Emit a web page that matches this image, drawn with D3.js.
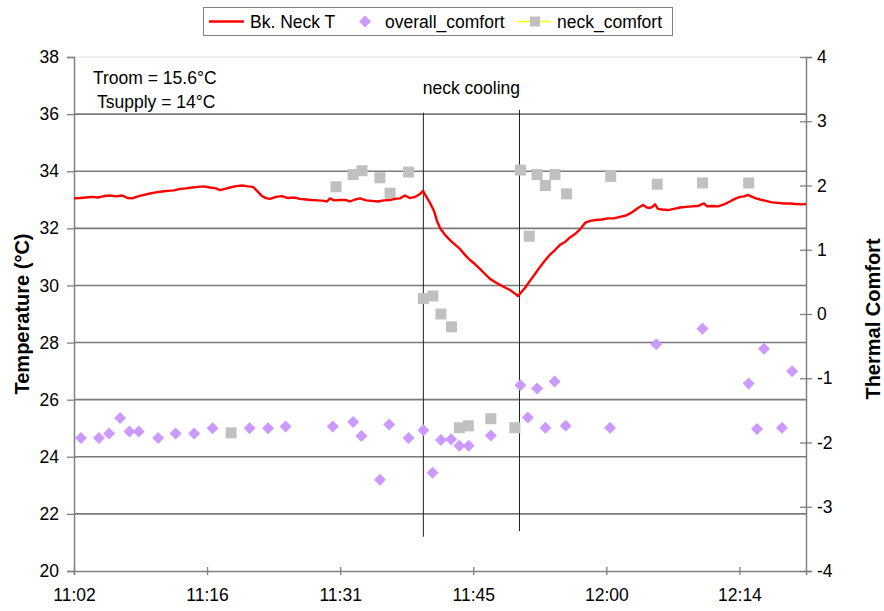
<!DOCTYPE html>
<html>
<head>
<meta charset="utf-8">
<script src="https://cdn.jsdelivr.net/npm/d3@7"></script>
<style>
  body { margin: 0; background: #fff; }
  svg { font-family: "Liberation Sans", Arial, sans-serif; }
</style>
</head>
<body>
<div id="chart"></div>
<script>
// times are minutes after 11:00
const timeTicks = [2.4, 16.8, 31.2, 45.6, 60, 74.4];
const timeLabels = ["11:02", "11:16", "11:31", "11:45", "12:00", "12:14"];
const tempTicks = [20, 22, 24, 26, 28, 30, 32, 34, 36, 38];
const comfortTicks = [-4, -3, -2, -1, 0, 1, 2, 3, 4];

// Bk. Neck T  [minute, °C]
const neckT = [
  [2.40,33.05],[3.05,33.06],[3.70,33.08],[4.35,33.10],[5.00,33.08],[5.65,33.13],[6.29,33.15],[6.94,33.12],
  [7.59,33.15],[8.24,33.06],[8.68,33.05],[9.32,33.12],[9.97,33.17],[10.62,33.22],[11.27,33.26],[11.92,33.29],
  [12.57,33.31],[13.22,33.33],[13.87,33.38],[14.52,33.40],[15.17,33.43],[15.82,33.45],[16.46,33.47],[17.11,33.43],
  [17.76,33.40],[18.20,33.34],[18.74,33.38],[19.28,33.43],[19.93,33.48],[20.58,33.50],[21.23,33.47],[21.77,33.45],
  [22.20,33.31],[22.74,33.13],[23.17,33.06],[23.61,33.03],[24.25,33.10],[24.90,33.13],[25.55,33.06],[26.20,33.08],
  [26.85,33.03],[27.50,33.01],[28.15,32.99],[28.80,32.98],[29.45,32.96],[29.77,32.94],[30.10,33.05],[30.53,32.98],
  [31.18,32.99],[31.83,32.99],[32.26,32.94],[32.80,33.01],[33.34,33.05],[33.99,32.98],[34.64,32.96],[35.29,32.94],
  [35.94,32.98],[36.59,32.99],[37.13,33.03],[37.67,33.05],[38.21,33.15],[38.75,33.06],[39.29,33.10],[39.83,33.20],
  [40.16,33.31],[40.48,33.13],[40.92,32.89],[41.35,32.61],[41.67,32.26],[42.00,32.01],[42.54,31.77],[43.08,31.59],
  [43.62,31.43],[44.16,31.28],[44.70,31.07],[45.24,30.89],[45.78,30.75],[46.32,30.58],[46.87,30.40],[47.41,30.23],
  [47.95,30.12],[48.49,30.02],[49.03,29.93],[49.57,29.84],[50.00,29.74],[50.44,29.63],[50.76,29.75],[51.19,29.91],
  [51.73,30.16],[52.28,30.40],[52.82,30.65],[53.36,30.87],[53.90,31.08],[54.44,31.24],[54.98,31.42],[55.52,31.52],
  [56.06,31.68],[56.60,31.80],[57.14,31.96],[57.69,32.19],[58.23,32.26],[58.88,32.29],[59.52,32.31],[60.17,32.35],
  [60.82,32.35],[61.47,32.40],[62.12,32.45],[62.77,32.56],[63.42,32.71],[63.96,32.82],[64.39,32.73],[64.72,32.71],
  [65.04,32.77],[65.26,32.84],[65.58,32.68],[66.01,32.66],[66.66,32.64],[67.31,32.68],[67.96,32.73],[68.61,32.75],
  [69.26,32.77],[69.91,32.78],[70.35,32.85],[70.56,32.87],[70.89,32.77],[71.43,32.78],[72.08,32.77],[72.73,32.84],
  [73.37,32.94],[74.02,33.05],[74.46,33.10],[74.89,33.12],[75.32,33.17],[75.65,33.12],[76.19,33.05],[76.62,33.01],
  [77.27,32.96],[77.92,32.91],[78.57,32.89],[79.22,32.87],[79.87,32.87],[80.52,32.85],[81.16,32.84],[81.60,32.85]
];

// overall_comfort [minute, vote]
const overallComfort = [
  [3.16,-1.93],[5.1,-1.93],[6.2,-1.86],[7.4,-1.62],[8.4,-1.83],[9.4,-1.83],[11.5,-1.93],[13.4,-1.86],
  [15.4,-1.86],[17.4,-1.78],[21.4,-1.78],[23.4,-1.78],[25.3,-1.75],[30.4,-1.75],[32.6,-1.68],[33.5,-1.90],
  [35.5,-2.58],[36.5,-1.72],[38.6,-1.93],[40.2,-1.81],[41.2,-2.47],[42.1,-1.96],[43.2,-1.95],[44.1,-2.05],
  [45.1,-2.05],[47.5,-1.89],[50.7,-1.11],[51.5,-1.61],[52.5,-1.16],[53.4,-1.77],[54.4,-1.05],[55.6,-1.74],
  [60.4,-1.77],[65.4,-0.47],[70.4,-0.23],[75.4,-1.08],[76.3,-1.79],[77.05,-0.54],[79.0,-1.77],[80.1,-0.89]
];

// neck_comfort [minute, vote]
const neckComfort = [
  [19.4,-1.85],[30.75,1.98],[32.6,2.17],[33.56,2.23],[35.5,2.12],[36.6,1.88],[38.6,2.21],[40.2,0.24],
  [41.24,0.28],[42.1,0.0],[43.24,-0.20],[44.1,-1.77],[45.06,-1.74],[47.5,-1.63],[50.1,-1.77],[50.7,2.24],
  [51.66,1.21],[52.5,2.17],[53.4,2.0],[54.44,2.17],[55.7,1.87],[60.47,2.14],[65.5,2.02],[70.4,2.04],[75.4,2.04]
];

// start / end of neck cooling [minute, top °C, bottom °C]
const coolingMarks = [[40.2, 36.05, 21.2], [50.6, 36.15, 21.4]];

const margin = { top: 57, right: 78, bottom: 40, left: 74 };
const W = 884, H = 611;
const width = W - margin.left - margin.right;
const height = H - margin.top - margin.bottom;

const svg = d3.select("#chart").append("svg")
  .attr("width", W)
  .attr("height", H);

const g = svg.append("g")
  .attr("transform", `translate(${margin.left},${margin.top})`);

const x = d3.scaleLinear().domain([2.4, 81.6]).range([0, width]);
const y = d3.scaleLinear().domain([20, 38]).range([height, 0]);
const yC = d3.scaleLinear().domain([-4, 4]).range([height, 0]);

// gridlines
g.append("line")
  .attr("x1", 0).attr("x2", width).attr("y1", 0).attr("y2", 0)
  .attr("stroke", "#e2e2e2");
g.selectAll(".grid")
  .data(tempTicks.filter(d => d > 20 && d < 38))
  .enter().append("line")
  .attr("x1", 0).attr("x2", width)
  .attr("y1", d => y(d)).attr("y2", d => y(d))
  .attr("stroke", "#7a7a7a")
  .attr("stroke-width", 1.6);

// axes
const fontSize = "17.5px";
const leftAxis = g.append("g")
  .call(d3.axisLeft(y).tickValues(tempTicks).tickFormat(d => String(d)).tickSize(7).tickPadding(8));
const rightAxis = g.append("g")
  .attr("transform", `translate(${width},0)`)
  .call(d3.axisRight(yC).tickValues(comfortTicks).tickFormat(d => String(d)).tickSize(6).tickPadding(5));
rightAxis.selectAll(".tick line").attr("x1", -6);
const bottomAxis = g.append("g")
  .attr("transform", `translate(0,${height})`)
  .call(d3.axisBottom(x).tickValues(timeTicks).tickFormat((d, i) => timeLabels[i]).tickSize(4).tickPadding(14));
bottomAxis.selectAll(".tick line").attr("y1", -4);

[leftAxis, rightAxis, bottomAxis].forEach(a => {
  a.select(".domain").attr("stroke", "#808080").attr("stroke-width", 1.5);
  a.selectAll(".tick line").attr("stroke", "#808080").attr("stroke-width", 1.3);
  a.selectAll("text").attr("fill", "#000").style("font-size", fontSize).style("font-family", "Liberation Sans, Arial");
});

// neck cooling markers
g.selectAll(".cool")
  .data(coolingMarks)
  .enter().append("line")
  .attr("x1", d => x(d[0])).attr("x2", d => x(d[0]))
  .attr("y1", d => y(d[1])).attr("y2", d => y(d[2]))
  .attr("stroke", "#222")
  .attr("stroke-width", 1);

g.append("text")
  .attr("x", x(45.4)).attr("y", y(36.7))
  .attr("text-anchor", "middle")
  .style("font-size", fontSize)
  .text("neck cooling");

// neck comfort squares
g.selectAll(".sq")
  .data(neckComfort)
  .enter().append("rect")
  .attr("x", d => x(d[0]) - 5.5)
  .attr("y", d => yC(d[1]) - 5.5)
  .attr("width", 11).attr("height", 11)
  .attr("fill", "#c0c0c0");

// overall comfort diamonds
const diamond = "M0,-6L6,0L0,6L-6,0Z";
g.selectAll(".dm")
  .data(overallComfort)
  .enter().append("path")
  .attr("d", diamond)
  .attr("transform", d => `translate(${x(d[0])},${yC(d[1])})`)
  .attr("fill", "#cc99ff");

// Bk. Neck T line
const line = d3.line()
  .x(d => x(d[0]))
  .y(d => y(d[1]));
g.append("path")
  .datum(neckT)
  .attr("fill", "none")
  .attr("stroke", "#ff0000")
  .attr("stroke-width", 2.4)
  .attr("stroke-linejoin", "round")
  .attr("d", line);

// condition notes
g.append("text").attr("x", 19).attr("y", 27).style("font-size", fontSize).text("Troom = 15.6°C");
g.append("text").attr("x", 23).attr("y", 51).style("font-size", fontSize).text("Tsupply = 14°C");

// axis titles
svg.append("text")
  .attr("transform", `translate(29,${margin.top + height / 2}) rotate(-90)`)
  .attr("text-anchor", "middle")
  .style("font-size", "20px").style("font-weight", "bold")
  .text("Temperature (°C)");
svg.append("text")
  .attr("transform", `translate(880,${margin.top + height / 2 + 5}) rotate(-90)`)
  .attr("text-anchor", "middle")
  .style("font-size", "20px").style("font-weight", "bold")
  .text("Thermal Comfort");

// legend
const legend = svg.append("g");
legend.append("rect")
  .attr("x", 203.5).attr("y", 7.5).attr("width", 469).attr("height", 28)
  .attr("fill", "#fff").attr("stroke", "#808080");
legend.append("line").attr("x1", 209).attr("x2", 244).attr("y1", 21.5).attr("y2", 21.5)
  .attr("stroke", "#ff0000").attr("stroke-width", 2.3);
legend.append("text").attr("x", 250).attr("y", 27.5).style("font-size", fontSize).text("Bk. Neck T");
legend.append("path").attr("d", diamond).attr("transform", "translate(365,21.5)").attr("fill", "#cc99ff");
legend.append("text").attr("x", 385).attr("y", 27.5).style("font-size", fontSize).text("overall_comfort");
legend.append("line").attr("x1", 518).attr("x2", 551).attr("y1", 21.5).attr("y2", 21.5)
  .attr("stroke", "#ffff00").attr("stroke-width", 1.3);
legend.append("rect").attr("x", 530).attr("y", 16.5).attr("width", 10).attr("height", 10).attr("fill", "#c0c0c0");
legend.append("text").attr("x", 557).attr("y", 27.5).style("font-size", fontSize).text("neck_comfort");
</script>
</body>
</html>
